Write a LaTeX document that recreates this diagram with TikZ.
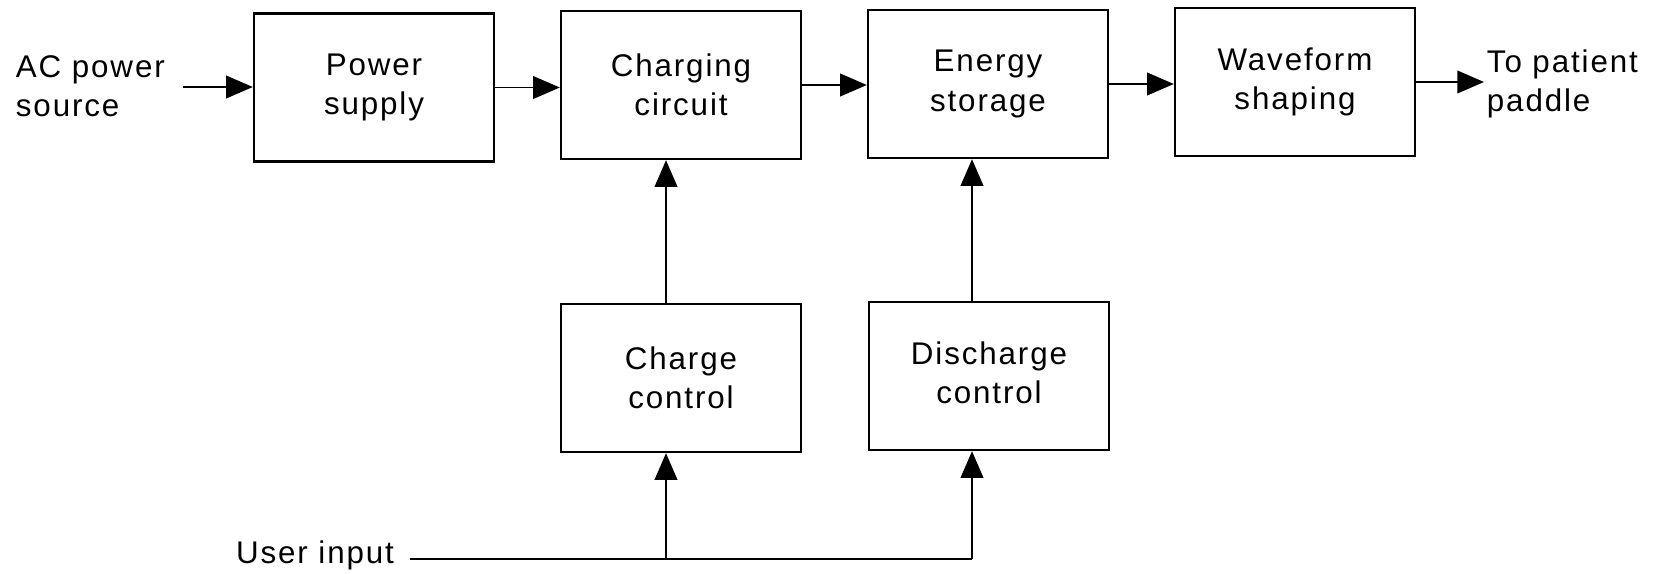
\documentclass[tikz,border=0pt]{standalone}
\usepackage{fontspec}
\setmainfont{Liberation Sans}[LetterSpace=6]
\usetikzlibrary{arrows.meta}
\begin{document}
\begin{tikzpicture}[x=0.75pt,y=-0.75pt,
  box/.style={draw,line width=1.8pt,minimum width=180pt,minimum height=111pt,align=center,inner sep=0pt},
  lbl/.style={align=left,inner sep=2pt},
  conn/.style={line width=1.3pt},
  arr/.style={conn,-{Triangle[length=20pt,width=17pt]}},
  every node/.append style={font=\fontsize{23.5}{29.5}\selectfont}]
\useasboundingbox (0,0) rectangle (1670,574);
% blocks
\node[box] (ps) at (374,87.5) {Power\\supply};
\node[box] (cc) at (681,85) {Charging\\circuit};
\node[box] (es) at (988,84) {Energy\\storage};
\node[box] (ws) at (1295,82) {Waveform\\shaping};
\node[box] (ctl) at (681,378) {Charge\\control};
\node[box] (dctl) at (989,376) {\raisebox{10pt}{\begin{tabular}{@{}c@{}}Discharge\\control\end{tabular}}};
% labels
\node[lbl,anchor=west] (ac) at (13,86.5) {AC power\\source};
\node[lbl,anchor=west] (tp) at (1484,84) {To patient\\paddle};
\node[lbl] (ui) at (315,555) {User input};
% coordinates
\coordinate (a0) at (183,87);
\coordinate (u0) at (410,559);
\coordinate (j1) at (666,559);
\coordinate (j2) at (972,559);
% main chain
\draw[arr] (a0) -- (a0 -| ps.west);
\draw[arr] (ps.east) -- (ps.east -| cc.west);
\draw[arr] (cc.east) -- (cc.east -| es.west);
\draw[arr] (es.east) -- (es.east -| ws.west);
\draw[arr] (ws.east) -- (ws.east -| tp.west);
% controls
\draw[arr] (ctl.north -| j1) -- (cc.south -| j1);
\draw[arr] (dctl.north -| j2) -- (es.south -| j2);
% user input
\draw[conn] (u0) -- (j2);
\draw[arr] (j1) -- (j1 |- ctl.south);
\draw[arr] (j2) -- (j2 |- dctl.south);
\end{tikzpicture}
\end{document}
